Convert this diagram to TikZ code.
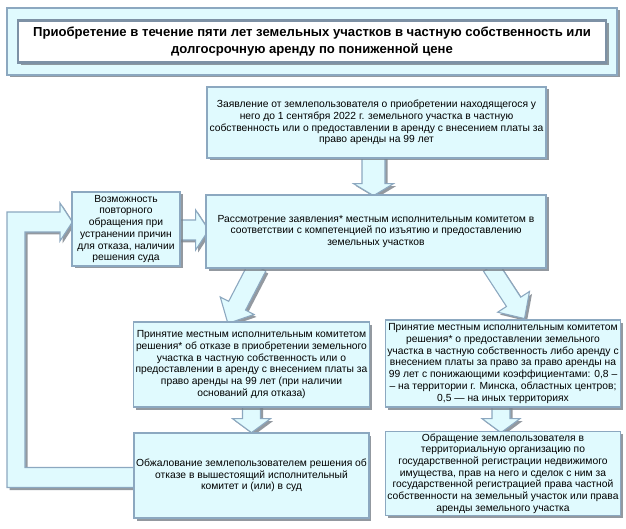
\documentclass[tikz,border=0pt]{standalone}
\usepackage{fontspec}
\setmainfont{Liberation Sans}
\usetikzlibrary{calc,shadows,backgrounds}
\definecolor{fillc}{RGB}{224,250,254}
\definecolor{bordc}{RGB}{140,168,192}
\definecolor{titlebord}{RGB}{125,145,165}
\definecolor{shadc}{RGB}{120,128,136}
\tikzset{
  shad/.style={drop shadow={shadow xshift=2.5pt,shadow yshift=-2.5pt,fill=shadc,opacity=0.8}},
  box/.style={draw=bordc,line width=1.3pt,fill=fillc,align=center,inner sep=2pt,
    font=\fontsize{10.3}{11.7}\selectfont,shad},
  blockarrow/.style={draw=bordc,line width=1.1pt,fill=fillc,line join=miter,shad},
}
\newcommand\barrow[6]{%
  \begin{scope}[shift={#1},rotate=#2]
    \path[blockarrow] (0,-#4) -- (#3-#6,-#4) -- (#3-#6,-#5) -- (#3,0) -- (#3-#6,#5) -- (#3-#6,#4) -- (0,#4) -- cycle;
  \end{scope}}
\begin{document}
\begin{tikzpicture}[x=1pt,y=-1pt]
\useasboundingbox (0,0) rectangle (626,529);
% title
\node[box,minimum width=610pt,minimum height=67pt] (tout) at (312,41.5) {};
\node[draw=titlebord,line width=2.6pt,fill=white,minimum width=588pt,minimum height=42pt,
  align=center,font=\bfseries\fontsize{13.1}{16.5}\selectfont,shad] (tin) at (tout.center)
  {Приобретение в течение пяти лет земельных участков в частную собственность или\\
   долгосрочную аренду по пониженной цене};
% boxes
\node[box,minimum width=339pt,minimum height=71pt] (zayav) at (376.5,122.5)
  {Заявление от землепользователя о приобретении находящегося у\\
   него до 1 сентября 2022 г. земельного участка в частную\\
   собственность или о предоставлении в аренду с внесением платы за\\
   право аренды на 99 лет};
\node[box,minimum width=340pt,minimum height=73pt] (rass) at (376,231.5)
  {Рассмотрение заявления* местным исполнительным комитетом в\\
   соответствии с компетенцией по изъятию и предоставлению\\
   земельных участков};
\node[box,minimum width=108pt,minimum height=74pt] (vozm) at (126,229)
  {Возможность\\ повторного\\ обращения при\\ устранении причин\\ для отказа, наличии\\ решения суда};
\node[box,minimum width=233pt,minimum height=85pt] (otkaz) at (251.5,364.5)
  {Принятие местным исполнительным комитетом\\
   решения* об отказе в приобретении земельного\\
   участка в частную собственность или о\\
   предоставлении в аренду с внесением платы за\\
   право аренды на 99 лет (при наличии\\
   оснований для отказа)};
\node[box,minimum width=230pt,minimum height=87pt] (pred) at (503,363.5)
  {Принятие местным исполнительным комитетом\\
   решения* о предоставлении земельного\\
   участка в частную собственность либо аренду с\\
   внесением платы за право за право аренды на\\
   99 лет с понижающими коэффициентами: 0,8 –\\
   – на территории г. Минска, областных центров;\\
   0,5 — на иных территориях};
\node[box,minimum width=233pt,minimum height=85pt] (obzh) at (251.5,475.5)
  {Обжалование землепользователем решения об\\
   отказе в вышестоящий исполнительный\\
   комитет и (или) в суд};
\node[box,minimum width=230pt,minimum height=83pt] (obr) at (503,473.5)
  {Обращение землепользователя в\\
   территориальную организацию по\\
   государственной регистрации недвижимого\\
   имущества, прав на него и сделок с ним за\\
   государственной регистрацией права частной\\
   собственности на земельный участок или права\\
   аренды земельного участка};
% arrows
\begin{pgfonlayer}{background}
  \barrow{($(zayav.south)+(-3,-2)$)}{-90}{39}{11.5}{20}{12}
  \barrow{($(rass.south west)+(52,-2)$)}{242.6}{64}{9.5}{19}{20}
  \barrow{($(rass.south east)+(-56,-2)$)}{-56.9}{62}{8.5}{19}{20}
  \barrow{($(otkaz.south)+(0,-2)$)}{-90}{27}{9}{19}{14}
  \barrow{($(pred.south)+(-2,-2)$)}{-90}{27}{9}{19}{14}
  \barrow{($(vozm.east)+(-2,1)$)}{0}{30}{10}{20}{13}
  \path[blockarrow] ($(obzh.west)+(3,-8)$) -- (25,467.5) -- (25,232) -- (60,232) -- (60,241)
     -- ($(vozm.west)+(1,-7)$) -- (60,203) -- (60,212) -- (7,212) -- (7,487.5)
     -- ($(obzh.west)+(3,12)$) -- cycle;
\end{pgfonlayer}
\end{tikzpicture}
\end{document}
